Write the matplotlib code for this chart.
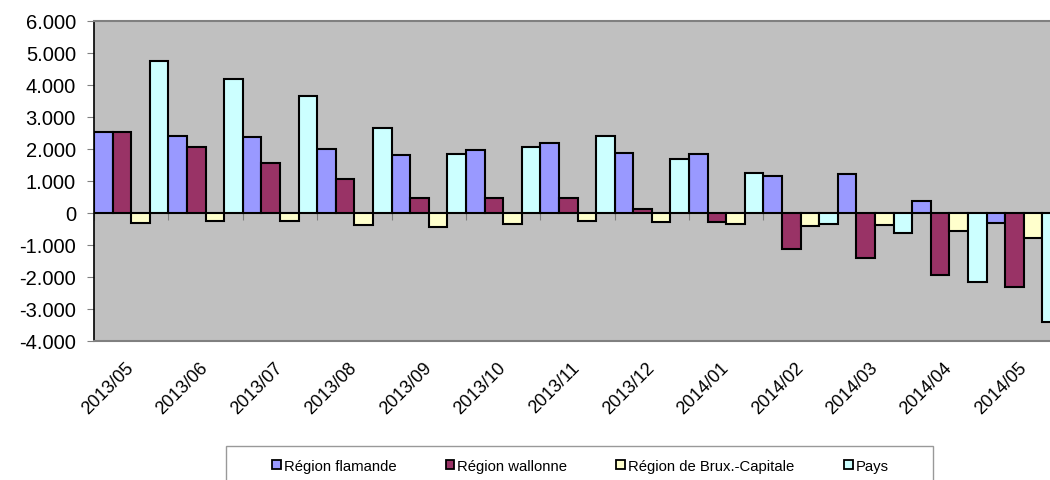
import matplotlib
matplotlib.use('Agg')
import matplotlib.pyplot as plt
from matplotlib.patches import Patch, Rectangle
from matplotlib.ticker import FuncFormatter
import numpy as np

plt.rcParams['font.family'] = ['Liberation Sans', 'DejaVu Sans']

months = ['2013/05', '2013/06', '2013/07', '2013/08', '2013/09', '2013/10', '2013/11',
          '2013/12', '2014/01', '2014/02', '2014/03', '2014/04', '2014/05']
flamande = [2520, 2400, 2370, 1990, 1820, 1980, 2190, 1860, 1850, 1170, 1210, 360, -300]
wallonne = [2540, 2070, 1560, 1050, 470, 460, 470, 120, -290, -1110, -1400, -1950, -2320]
brux = [-310, -260, -260, -380, -440, -340, -240, -270, -330, -400, -380, -560, -780]
pays = [4740, 4200, 3650, 2660, 1840, 2070, 2410, 1690, 1240, -350, -620, -2150, -3410]
series_names = ['Région flamande', 'Région wallonne', 'Région de Brux.-Capitale', 'Pays']
colors = ['#9999FF', '#993366', '#FFFFCC', '#CCFFFF']
y_min, y_max, y_step = -4000, 6000, 1000

W, H = 1050, 481
fig = plt.figure(figsize=(W / 100, H / 100), dpi=100)
left, right, top, bottom = 94, 1061, 22, 342
ax = fig.add_axes([left / W, 1 - bottom / H, (right - left) / W, (bottom - top) / H])
ax.set_facecolor('#C0C0C0')

n = len(months)
x = np.arange(n)
width = 0.25
all_series = [flamande, wallonne, brux, pays]
for k, (vals, c) in enumerate(zip(all_series, colors)):
    ax.bar(x + (k - 1.5) * width, vals, width=width, color=c, edgecolor='black',
           linewidth=1.5, zorder=3)

ax.axhline(0, color='black', linewidth=1.3, zorder=2)
ax.set_xlim(-0.5, n - 0.5)
ax.set_ylim(y_min, y_max)
ax.set_yticks(np.arange(y_min, y_max + 1, y_step))
ax.yaxis.set_major_formatter(FuncFormatter(lambda v, p: f"{int(v):,}".replace(',', '.')))
ax.tick_params(axis='y', length=5, color='#808080', labelsize=14.5, pad=8)

ax.set_xticks(x)
ax.set_xticklabels(months, rotation=45, ha='right', va='center', rotation_mode='anchor',
                   fontsize=13)
ax.tick_params(axis='x', length=0, pad=17)

for s in ['top', 'bottom']:
    ax.spines[s].set_color('#808080')
    ax.spines[s].set_linewidth(1.5)
ax.spines['left'].set_color('black')
ax.spines['left'].set_linewidth(1.2)
ax.spines['right'].set_visible(False)

sec = ax.secondary_xaxis((0 - y_min) / (y_max - y_min))
sec.set_xticks(np.arange(n + 1) - 0.5)
sec.tick_params(length=5, color='#808080', labelbottom=False, width=0.8)
sec.spines['bottom'].set_visible(False)

# legend box
fig.patches.append(Rectangle((226 / W, 1 - 495 / H), (933 - 226) / W, (495 - 447) / H,
                             transform=fig.transFigure, facecolor='white',
                             edgecolor='#999999', linewidth=1.0))
handles = [Patch(facecolor=c, edgecolor='black', linewidth=1.3) for c in colors]
fig.legend(handles, series_names, loc='center left', bbox_to_anchor=(272 / W, 1 - 467 / H),
           ncol=4, frameon=False, fontsize=10.7, handlelength=0.6, handleheight=0.55,
           handletextpad=0.2, columnspacing=3.3, borderaxespad=0, borderpad=0)

fig.savefig('out.png', dpi=100)
